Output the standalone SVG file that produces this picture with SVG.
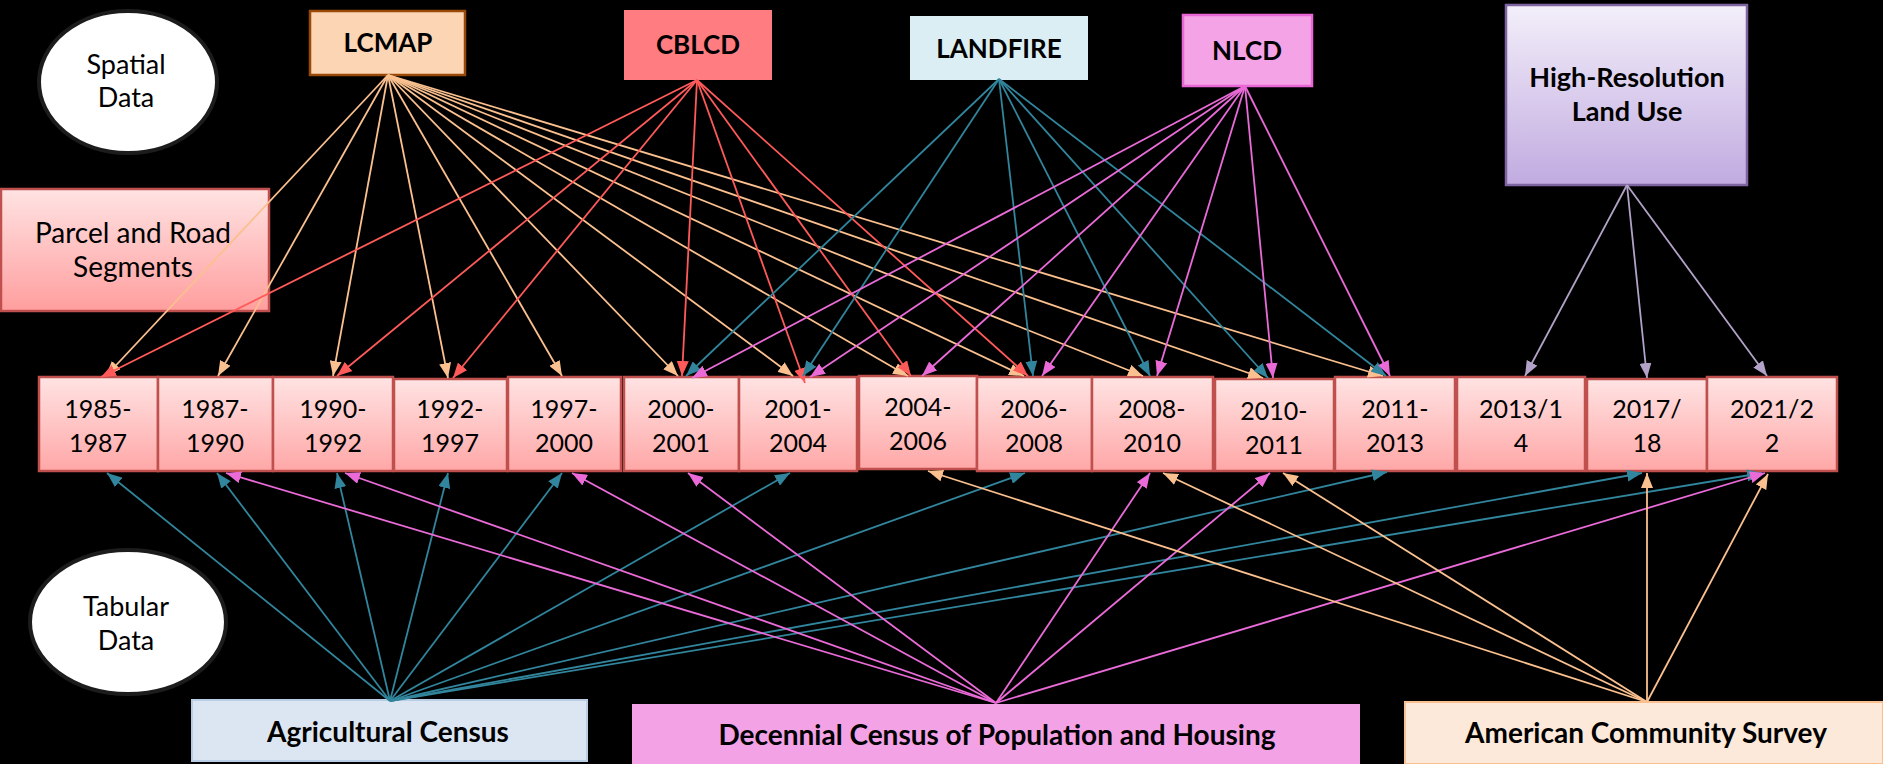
<svg xmlns="http://www.w3.org/2000/svg" width="1883" height="764" viewBox="0 0 1883 764">
<style>
  .t { font-family: Lato, "Liberation Sans", sans-serif; fill: #000; text-anchor: middle; }
  .b { font-weight: bold; font-size: 26px; }
  .bl { font-weight: bold; font-size: 28px; }
  .yr { font-size: 25px; }
  .lg { font-size: 27px; }
  .yb { fill: url(#gYear); stroke: #C0504D; stroke-width: 2.5; }
  .c { fill: none; stroke-width: 1.8; }
  .peach { stroke: #FAC08F; marker-end: url(#aPeach); }
  .red { stroke: #FF5A5A; marker-end: url(#aRed); }
  .teal { stroke: #31859C; marker-end: url(#aTeal); }
  .mag { stroke: #EA6BD8; marker-end: url(#aMag); }
  .lav { stroke: #B3A2C7; marker-end: url(#aLav); }
</style>
<defs>
  <linearGradient id="gYear" x1="0" y1="0" x2="0" y2="1">
    <stop offset="0" stop-color="#FFE3E3"/>
    <stop offset="1" stop-color="#FFA7A7"/>
  </linearGradient>
  <linearGradient id="gParcel" x1="0" y1="0" x2="0" y2="1">
    <stop offset="0" stop-color="#FFE3E3"/>
    <stop offset="1" stop-color="#FF9E9E"/>
  </linearGradient>
  <linearGradient id="gHigh" x1="0" y1="0" x2="0" y2="1">
    <stop offset="0" stop-color="#F3EFFA"/>
    <stop offset="1" stop-color="#C1ABE0"/>
  </linearGradient>
  <marker id="aPeach" viewBox="0 0 15 12" refX="15" refY="6" markerWidth="15" markerHeight="12" markerUnits="userSpaceOnUse" orient="auto"><path d="M0,0 L15,6 L0,12 z" fill="#FAC08F"/></marker>
  <marker id="aRed" viewBox="0 0 15 12" refX="15" refY="6" markerWidth="15" markerHeight="12" markerUnits="userSpaceOnUse" orient="auto"><path d="M0,0 L15,6 L0,12 z" fill="#FF5A5A"/></marker>
  <marker id="aTeal" viewBox="0 0 15 12" refX="15" refY="6" markerWidth="15" markerHeight="12" markerUnits="userSpaceOnUse" orient="auto"><path d="M0,0 L15,6 L0,12 z" fill="#31859C"/></marker>
  <marker id="aMag" viewBox="0 0 15 12" refX="15" refY="6" markerWidth="15" markerHeight="12" markerUnits="userSpaceOnUse" orient="auto"><path d="M0,0 L15,6 L0,12 z" fill="#EA6BD8"/></marker>
  <marker id="aLav" viewBox="0 0 15 12" refX="15" refY="6" markerWidth="15" markerHeight="12" markerUnits="userSpaceOnUse" orient="auto"><path d="M0,0 L15,6 L0,12 z" fill="#B3A2C7"/></marker>
</defs>
<rect x="0" y="0" width="1883" height="764" fill="#000"/>

<g id="spatial-data">
  <ellipse cx="128" cy="82" rx="89" ry="71" fill="#FFF" stroke="#1C1C1C" stroke-width="4"/>
  <text class="t lg" x="126" y="74">Spatial</text>
  <text class="t lg" x="126" y="107">Data</text>
</g>
<g id="tabular-data">
  <ellipse cx="128" cy="622" rx="98" ry="72" fill="#FFF" stroke="#1C1C1C" stroke-width="4"/>
  <text class="t lg" x="126" y="616">Tabular</text>
  <text class="t lg" x="126" y="650">Data</text>
</g>
<g id="lcmap">
  <rect x="310" y="11" width="155" height="64" fill="#FCD5B5" stroke="#984807" stroke-width="2.5"/>
  <text class="t b" x="388" y="52">LCMAP</text>
</g>
<g id="cblcd">
  <rect x="624" y="10" width="148" height="70" fill="#FF7C80"/>
  <text class="t b" x="698" y="54">CBLCD</text>
</g>
<g id="landfire">
  <rect x="910" y="16" width="178" height="64" fill="#DAEEF3"/>
  <text class="t b" x="999" y="58">LANDFIRE</text>
</g>
<g id="nlcd">
  <rect x="1183" y="15" width="129" height="71" fill="#F4A3E6" stroke="#E966D6" stroke-width="2.5"/>
  <text class="t b" x="1247" y="60">NLCD</text>
</g>
<g id="high-resolution">
  <rect x="1506" y="5" width="241" height="180" fill="url(#gHigh)" stroke="#7F64A2" stroke-width="2.5"/>
  <text class="t b" x="1627" y="87" style="font-size:27px">High-Resolution</text>
  <text class="t b" x="1627" y="121" style="font-size:27px">Land Use</text>
</g>
<g id="parcel-road">
  <rect x="1" y="189" width="268" height="122" fill="url(#gParcel)" stroke="#C0504D" stroke-width="2.5"/>
  <text class="t" x="133" y="243" style="font-size:28px">Parcel and Road</text>
  <text class="t" x="133" y="277" style="font-size:28px">Segments</text>
</g>

<g id="y1985"><rect class="yb" x="39" y="377" width="119" height="94"/><text class="t yr" x="98" y="418">1985-</text><text class="t yr" x="98" y="452">1987</text></g>
<g id="y1987"><rect class="yb" x="158" y="377" width="115" height="94"/><text class="t yr" x="215" y="418">1987-</text><text class="t yr" x="215" y="452">1990</text></g>
<g id="y1990"><rect class="yb" x="273" y="377" width="120" height="94"/><text class="t yr" x="333" y="418">1990-</text><text class="t yr" x="333" y="452">1992</text></g>
<g id="y1992"><rect class="yb" x="394" y="379" width="113" height="92"/><text class="t yr" x="450" y="418">1992-</text><text class="t yr" x="450" y="452">1997</text></g>
<g id="y1997"><rect class="yb" x="508" y="377" width="113" height="94"/><text class="t yr" x="564" y="418">1997-</text><text class="t yr" x="564" y="452">2000</text></g>
<g id="y2000"><rect class="yb" x="624" y="377" width="115" height="94"/><text class="t yr" x="681" y="418">2000-</text><text class="t yr" x="681" y="452">2001</text></g>
<g id="y2001"><rect class="yb" x="739" y="377" width="118" height="94"/><text class="t yr" x="798" y="418">2001-</text><text class="t yr" x="798" y="452">2004</text></g>
<g id="y2004"><rect class="yb" x="859" y="376" width="118" height="93"/><text class="t yr" x="918" y="416">2004-</text><text class="t yr" x="918" y="450">2006</text></g>
<g id="y2006"><rect class="yb" x="977" y="377" width="115" height="94"/><text class="t yr" x="1034" y="418">2006-</text><text class="t yr" x="1034" y="452">2008</text></g>
<g id="y2008"><rect class="yb" x="1092" y="377" width="121" height="94"/><text class="t yr" x="1152" y="418">2008-</text><text class="t yr" x="1152" y="452">2010</text></g>
<g id="y2010"><rect class="yb" x="1215" y="379" width="119" height="92"/><text class="t yr" x="1274" y="420">2010-</text><text class="t yr" x="1274" y="454">2011</text></g>
<g id="y2011"><rect class="yb" x="1335" y="377" width="120" height="94"/><text class="t yr" x="1395" y="418">2011-</text><text class="t yr" x="1395" y="452">2013</text></g>
<g id="y2013"><rect class="yb" x="1457" y="377" width="128" height="94"/><text class="t yr" x="1521" y="418">2013/1</text><text class="t yr" x="1521" y="452">4</text></g>
<g id="y2017"><rect class="yb" x="1587" y="379" width="120" height="92"/><text class="t yr" x="1647" y="418">2017/</text><text class="t yr" x="1647" y="452">18</text></g>
<g id="y2021"><rect class="yb" x="1707" y="377" width="130" height="94"/><text class="t yr" x="1772" y="418">2021/2</text><text class="t yr" x="1772" y="452">2</text></g>

<g id="agricultural-census">
  <rect x="192" y="700" width="395" height="61" fill="#DCE6F2" stroke="#B9CDE5" stroke-width="2"/>
  <text class="t bl" x="388" y="742">Agricultural Census</text>
</g>
<g id="decennial-census">
  <rect x="632" y="704" width="728" height="60" fill="#F4A2E6"/>
  <text class="t bl" x="997" y="745">Decennial Census of Population and Housing</text>
</g>
<g id="american-community-survey">
  <rect x="1405" y="702" width="478" height="62" fill="#FDE9D9" stroke="#FAC090" stroke-width="2"/>
  <text class="t bl" x="1646" y="743">American Community Survey</text>
</g>

<g id="connectors">
  <!-- LCMAP -->
  <line class="c peach" x1="388" y1="75" x2="106" y2="376"/>
  <line class="c peach" x1="388" y1="75" x2="218" y2="376"/>
  <line class="c peach" x1="388" y1="75" x2="333" y2="376"/>
  <line class="c peach" x1="388" y1="75" x2="448" y2="378"/>
  <line class="c peach" x1="388" y1="75" x2="562" y2="376"/>
  <line class="c peach" x1="388" y1="75" x2="678" y2="376"/>
  <line class="c peach" x1="388" y1="75" x2="793" y2="376"/>
  <line class="c peach" x1="388" y1="75" x2="908" y2="376"/>
  <line class="c peach" x1="388" y1="75" x2="1024" y2="376"/>
  <line class="c peach" x1="388" y1="75" x2="1143" y2="376"/>
  <line class="c peach" x1="388" y1="75" x2="1263" y2="378"/>
  <line class="c peach" x1="388" y1="75" x2="1383" y2="376"/>
  <!-- CBLCD -->
  <line class="c red" x1="697" y1="80" x2="101" y2="377"/>
  <line class="c red" x1="697" y1="80" x2="337" y2="376"/>
  <line class="c red" x1="697" y1="80" x2="453" y2="378"/>
  <line class="c red" x1="697" y1="80" x2="682" y2="376"/>
  <line class="c red" x1="697" y1="80" x2="805" y2="383"/>
  <line class="c red" x1="697" y1="80" x2="911" y2="376"/>
  <line class="c red" x1="697" y1="80" x2="1028" y2="376"/>
  <!-- LANDFIRE -->
  <line class="c teal" x1="999" y1="79" x2="686" y2="376"/>
  <line class="c teal" x1="999" y1="79" x2="803" y2="376"/>
  <line class="c teal" x1="999" y1="79" x2="1033" y2="376"/>
  <line class="c teal" x1="999" y1="79" x2="1150" y2="376"/>
  <line class="c teal" x1="999" y1="79" x2="1268" y2="378"/>
  <line class="c teal" x1="999" y1="79" x2="1386" y2="376"/>
  <!-- NLCD -->
  <line class="c mag" x1="1245" y1="86" x2="692" y2="378"/>
  <line class="c mag" x1="1245" y1="86" x2="810" y2="377"/>
  <line class="c mag" x1="1245" y1="86" x2="922" y2="376"/>
  <line class="c mag" x1="1245" y1="86" x2="1042" y2="376"/>
  <line class="c mag" x1="1245" y1="86" x2="1157" y2="376"/>
  <line class="c mag" x1="1245" y1="86" x2="1273" y2="378"/>
  <line class="c mag" x1="1245" y1="86" x2="1390" y2="376"/>
  <!-- High-Resolution Land Use -->
  <line class="c lav" x1="1627" y1="185" x2="1525" y2="376"/>
  <line class="c lav" x1="1627" y1="185" x2="1647" y2="378"/>
  <line class="c lav" x1="1627" y1="185" x2="1767" y2="376"/>
  <!-- Agricultural Census -->
  <line class="c teal" x1="390" y1="701" x2="107" y2="473"/>
  <line class="c teal" x1="390" y1="701" x2="217" y2="473"/>
  <line class="c teal" x1="390" y1="701" x2="337" y2="473"/>
  <line class="c teal" x1="390" y1="701" x2="448" y2="473"/>
  <line class="c teal" x1="390" y1="701" x2="562" y2="473"/>
  <line class="c teal" x1="390" y1="701" x2="790" y2="473"/>
  <line class="c teal" x1="390" y1="701" x2="1025" y2="473"/>
  <line class="c teal" x1="390" y1="701" x2="1387" y2="472"/>
  <line class="c teal" x1="390" y1="701" x2="1642" y2="473"/>
  <line class="c teal" x1="390" y1="701" x2="1762" y2="473"/>
  <!-- Decennial Census -->
  <line class="c mag" x1="996" y1="703" x2="226" y2="473"/>
  <line class="c mag" x1="996" y1="703" x2="345" y2="473"/>
  <line class="c mag" x1="996" y1="703" x2="572" y2="473"/>
  <line class="c mag" x1="996" y1="703" x2="688" y2="473"/>
  <line class="c mag" x1="996" y1="703" x2="1150" y2="473"/>
  <line class="c mag" x1="996" y1="703" x2="1270" y2="473"/>
  <line class="c mag" x1="996" y1="703" x2="1765" y2="473"/>
  <!-- American Community Survey -->
  <line class="c peach" x1="1647" y1="702" x2="928" y2="471"/>
  <line class="c peach" x1="1647" y1="702" x2="1163" y2="473"/>
  <line class="c peach" x1="1647" y1="702" x2="1283" y2="473"/>
  <line class="c peach" x1="1647" y1="702" x2="1647" y2="473"/>
  <line class="c peach" x1="1647" y1="702" x2="1768" y2="474"/>
</g>
</svg>
